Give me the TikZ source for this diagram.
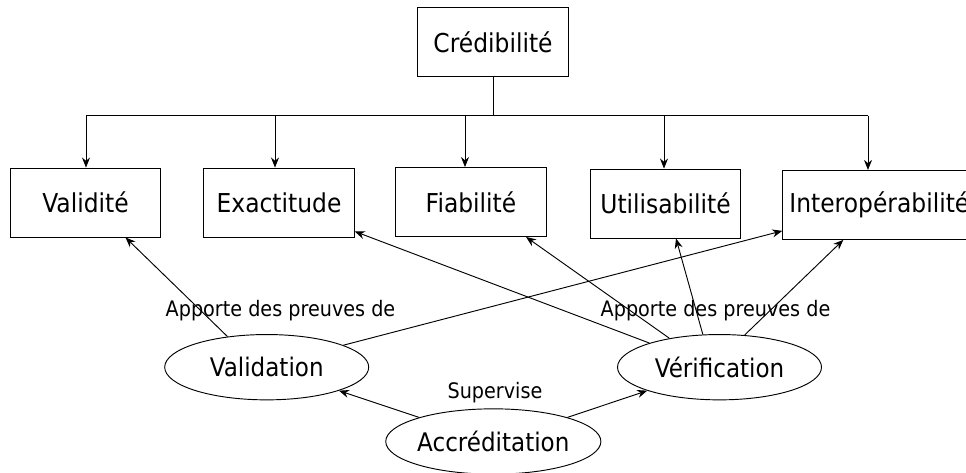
\documentclass[tikz,border=0pt]{standalone}
\usepackage{fontspec}
\setmainfont{DejaVu Sans}[FakeStretch=0.9]
\usepackage{tikz}
\usetikzlibrary{arrows.meta,positioning,calc,shapes.geometric}

\begin{document}
\begin{tikzpicture}[
  x=0.75pt, y=-0.75pt,
  >={Stealth[length=7.5pt,width=6pt]},
  qbox/.style={draw, rectangle, line width=0.7pt,
               minimum width=113pt, minimum height=51.75pt,
               inner sep=5pt, font=\fontsize{19.5}{23}\selectfont},
  proc/.style={draw, ellipse, line width=0.7pt,
               minimum width=153pt, minimum height=49pt,
               inner sep=0pt, font=\fontsize{19.2}{23}\selectfont},
  lbl/.style={font=\fontsize{16}{19}\selectfont},
  link/.style={->, line width=0.7pt},
]
\useasboundingbox (0,0) rectangle (966,473);

%%---- Qualities ------------------------------------------------------
\node[qbox] (Credibilite) at (493,41.8) {Crédibilité};

\node[qbox] (Validite) at (85.5,202.5) {Validité};
\node[qbox] (Exactitude) at (279,202.5) {Exactitude};
\node[qbox] (Fiabilite) at (471,202) {Fiabilité};
\node[qbox] (Utilisabilite) at (665.5,203.5) {Utilisabilité};
\node[qbox, anchor=west] (Interop) at (782.3,204.9) {Interopérabilité};

%%---- Tree under Crédibilité -----------------------------------------
\coordinate (barL) at (86,115.7);
\coordinate (barR) at (868,115.7);

\draw[line width=0.7pt] (barL) -- (barR);
\draw[line width=0.7pt] (Credibilite.south) -- (Credibilite.south |- barL);
\foreach \n/\dx in {Validite/0.5, Exactitude/-4, Fiabilite/-6, Utilisabilite/-1.5}
  \draw[link] ($(\n.north |- barL)+(\dx,0)$) -- ($(\n.north)+(\dx,0)$);
\draw[link] (barR) -- (barR |- Interop.north);

%%---- Processes ------------------------------------------------------
\node[proc] (Validation) at (266.7,367.2) {Validation};
\node[proc] (Verification) at (719.5,367.2) {Vérification};
\node[proc] (Accreditation) at (493.3,441.5) {Accréditation};

\node[lbl] (preuvesL) at (280.5,310.7) {Apporte des preuves de};
\node[lbl] (preuvesR) at (715.5,310.7) {Apporte des preuves de};
\node[lbl] (supervise) at (495,392.7) {Supervise};

% evidence links
\draw[link] (Validation.142) -- ($(Validite.south)+(40,0)$);
\draw[link] (Validation.16) -- ($(Interop.south west)+(0,-9)$);
\draw[link] (Verification.161) -- ($(Exactitude.south east)+(0,-6)$);
\draw[link] (Verification.150) -- ($(Fiabilite.south)+(55,0)$);
\draw[link] (Verification.117) -- ($(Utilisabilite.south)+(10.5,0)$);
\draw[link] (Verification.52) -- ($(Interop.south west)+(61,0)$);

% supervision
\draw[link] (Accreditation.162) -- (Validation.342);
\draw[link] (Accreditation.18) -- (Verification.198);

\end{tikzpicture}
\end{document}
